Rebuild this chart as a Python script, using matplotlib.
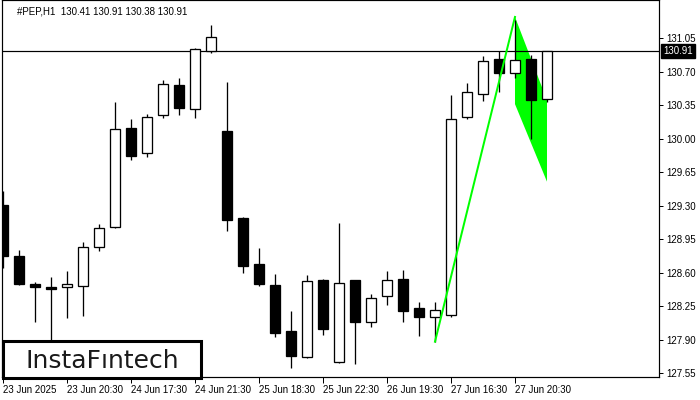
import matplotlib
matplotlib.use("Agg")

import matplotlib.pyplot as plt
from matplotlib.patches import Rectangle

# -------------------------
# Data: #PEP, H1 candles
# -------------------------
opens = [129.31, 128.77, 128.48, 128.45, 128.45, 128.46, 128.87, 129.08, 130.11, 129.85,
         130.25, 130.56, 130.31, 130.91, 130.08, 129.17, 128.69, 128.47, 127.99, 127.72,
         128.52, 127.67, 128.52, 128.09, 128.36, 128.53, 128.23, 128.14, 128.16, 130.23,
         130.47, 130.83, 130.68, 130.83, 130.41]
highs = [129.45, 128.84, 128.50, 128.56, 128.62, 128.92, 129.11, 130.38, 130.20, 130.26,
         130.61, 130.63, 130.95, 131.19, 130.59, 129.18, 128.86, 128.59, 128.20, 128.58,
         128.53, 129.12, 128.52, 128.38, 128.62, 128.63, 128.29, 128.29, 130.46, 130.58,
         130.86, 130.91, 131.24, 130.87, 130.91]
lows = [128.65, 128.47, 128.08, 127.90, 128.13, 128.15, 128.83, 129.07, 129.78, 129.81,
        130.22, 130.25, 130.22, 130.89, 129.04, 128.60, 128.46, 127.93, 127.61, 127.71,
        127.95, 127.66, 127.65, 128.03, 128.26, 128.08, 127.94, 127.88, 128.14, 130.20,
        130.39, 130.49, 130.63, 130.00, 130.38]
closes = [128.77, 128.48, 128.45, 128.43, 128.48, 128.87, 129.07, 130.10, 129.82, 130.23,
          130.57, 130.32, 130.94, 131.06, 129.15, 128.67, 128.48, 127.97, 127.73, 128.51,
          128.01, 128.49, 128.09, 128.34, 128.52, 128.20, 128.14, 128.21, 130.20, 130.49,
          130.81, 130.68, 130.82, 130.40, 130.91]

tick_bars = [0, 4, 8, 12, 16, 20, 24, 28, 32]
tick_labels = ["23 Jun 2025", "23 Jun 20:30", "24 Jun 17:30", "24 Jun 21:30",
               "25 Jun 18:30", "25 Jun 22:30", "26 Jun 19:30", "27 Jun 16:30",
               "27 Jun 20:30"]
price_ticks = [127.55, 127.90, 128.25, 128.60, 128.95, 129.30, 129.65,
               130.00, 130.35, 130.70, 131.05]

# bullish flag pattern: pole + flag body
pole_bars = [27, 32]
pole_prices = [127.88, 131.27]
flag_bars = [32, 34, 34, 32]
flag_prices = [131.27, 130.40, 129.55, 130.36]

last_price = 130.91
header = "#PEP,H1  130.41 130.91 130.38 130.91"

GREEN = "#00ff00"
PX = 0.72  # one pixel in points at 100 dpi

fig = plt.figure(figsize=(7, 4), dpi=100)
ax = fig.add_axes([2 / 700, 1 - 377 / 400, 657 / 700, 377 / 400])

# -------------------------
# Pattern: flag behind candles, pole on top
# -------------------------
ax.fill(flag_bars, flag_prices, color=GREEN, lw=0, zorder=1)
ax.plot(pole_bars, pole_prices, color=GREEN, lw=2 * PX, zorder=5)
ax.axhline(last_price, color="black", lw=1.2 * PX, zorder=2)

# -------------------------
# Candles
# -------------------------
for i, (o, h, l, c) in enumerate(zip(opens, highs, lows, closes)):
    ax.vlines(i, l, h, color="black", lw=1.3 * PX, zorder=3)
    up = c >= o
    ax.bar(i, max(abs(c - o), 0.005), bottom=min(o, c), width=0.64,
           facecolor="white" if up else "black", edgecolor="black",
           lw=1.3 * PX, zorder=4)

ax.set_xlim(-0.06, 41.0)
ax.set_ylim(127.511, 131.447)

# -------------------------
# Axes styling
# -------------------------
font = "Liberation Sans"
ax.set_xticks(tick_bars)
ax.set_xticklabels(tick_labels, ha="left", fontsize=7, family=font)
ax.yaxis.tick_right()
ax.set_yticks(price_ticks)
ax.set_yticklabels([f"{p:.2f}" for p in price_ticks], fontsize=7, family=font)
ax.tick_params(axis="x", length=4, width=PX, pad=2, direction="out")
ax.tick_params(axis="y", length=3, width=PX, pad=2, direction="out")
for s in ax.spines.values():
    s.set_linewidth(1.2 * PX)
    s.set_color("black")

# current price label
ax.text(1.006, last_price, f"{last_price:.2f}", transform=ax.get_yaxis_transform(),
        color="white", fontsize=7, family=font, va="center", ha="left",
        bbox=dict(boxstyle="square,pad=0.2", fc="black", ec="black"))

fig.text(17 / 700, 1 - 11 / 400, header, va="center", ha="left",
         fontsize=7, family=font)

# -------------------------
# Logo
# -------------------------
fig.add_artist(Rectangle((3 / 700, 1 - 378 / 400), 198 / 700, 37 / 400,
                         transform=fig.transFigure, facecolor="white",
                         edgecolor="black", lw=2.2, zorder=10))
fig.text(102 / 700, 1 - 368 / 400, "InstaFıntech", ha="center", va="baseline",
         fontsize=18, color="#1a1a1a", zorder=11)

fig.savefig("out.png", dpi=100)
